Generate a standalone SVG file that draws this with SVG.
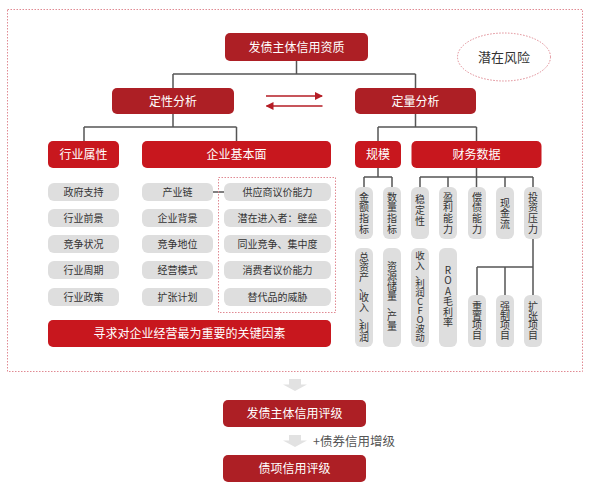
<svg xmlns="http://www.w3.org/2000/svg" width="589" height="490" viewBox="0 0 589 490">
<style>
text{font-family:"Noto Sans CJK SC","Noto Sans",sans-serif;}
.dk{fill:#ad1f25;}
.br{fill:#c8171e;}
.gp{fill:#dedede;}
.wt{fill:#ffffff;font-size:12px;text-anchor:middle;}
.gt{fill:#333333;font-size:10px;text-anchor:middle;}
.vt{fill:#333333;font-size:10px;text-anchor:middle;}
.ln{fill:none;stroke:#555555;stroke-width:1.5;}
.dot{fill:none;stroke:#e08a93;stroke-width:1;stroke-dasharray:1.5 1.5;}
.arw{fill:none;stroke:#b51d25;stroke-width:1.3;}
.ga{fill:#e2e2e2;}
</style>
<defs>
<marker id="ah" markerWidth="8" markerHeight="8" refX="7" refY="4" orient="auto" markerUnits="userSpaceOnUse">
<path d="M0,0 L8,4 L0,8 Z" fill="#b51d25"/>
</marker>
</defs>
<rect x="7.5" y="9.5" width="575" height="362" class="dot"/>
<g id="risk">
<ellipse cx="504" cy="57" rx="46.5" ry="24" class="dot"/>
<text x="504" y="62" style="font-size:13px;fill:#333;text-anchor:middle">潜在风险</text>
</g>
<g id="connectors">
<path class="ln" d="M296.5,61V74M173,74H415.5M173,74V88M415.5,74V88"/>
<path class="ln" d="M173,114V127M84,127H236.5M84,127V141M236.5,127V141"/>
<path class="ln" d="M415.5,114V127M378,127H476.5M378,127V141M476.5,127V141"/>
<path class="ln" d="M378,168V177M364,177H392M364,177V187M392,177V187"/>
<path class="ln" d="M476.5,168V177M420,177H533M420,177V187M448,177V187M476.5,177V187M505,177V187M533,177V187"/>
<path class="ln" d="M533,239V267M477,267H533M477,267V295M505,267V295M533,267V295"/>
<path class="ln" d="M213,192H224"/>
<line class="arw" x1="266" y1="96" x2="322" y2="96" marker-end="url(#ah)"/>
<line class="arw" x1="322.5" y1="106" x2="266.5" y2="106" marker-end="url(#ah)"/>
<path class="ga" d="M289,379H301V384.5H307L295,391L283,384.5H289Z"/>
<path class="ga" d="M289,435H301V440.5H307L295,447L283,440.5H289Z"/>
<text x="313" y="446" style="font-size:12.5px;fill:#555">+债券信用增级</text>
</g>
<g id="top"><rect x="225" y="33" width="143" height="28" rx="5" class="dk"/><text x="296.5" y="51.5" class="wt">发债主体信用资质</text></g>
<g id="dingxing"><rect x="112" y="88" width="122" height="26" rx="5" class="dk"/><text x="173" y="105.5" class="wt">定性分析</text></g>
<g id="dingliang"><rect x="355" y="88" width="121" height="26" rx="5" class="dk"/><text x="415.5" y="105.5" class="wt">定量分析</text></g>
<g id="hangye"><rect x="48" y="141" width="71" height="27" rx="5" class="br"/><text x="83.5" y="158.5" class="wt">行业属性</text></g>
<g id="qiye"><rect x="142" y="141" width="189" height="27" rx="5" class="br"/><text x="236.5" y="158.5" class="wt">企业基本面</text></g>
<g id="guimo"><rect x="355" y="141" width="46" height="27" rx="5" class="br"/><text x="378" y="158.5" class="wt">规模</text></g>
<g id="caiwu"><rect x="411.5" y="141" width="130" height="27" rx="5" class="br"/><text x="476.5" y="158.5" class="wt">财务数据</text></g>
<g id="col1">
<rect x="48" y="183" width="71" height="18" rx="6" class="gp"/><text x="83.5" y="195.5" class="gt">政府支持</text>
<rect x="48" y="209" width="71" height="18" rx="6" class="gp"/><text x="83.5" y="221.5" class="gt">行业前景</text>
<rect x="48" y="235" width="71" height="18" rx="6" class="gp"/><text x="83.5" y="247.5" class="gt">竞争状况</text>
<rect x="48" y="261" width="71" height="18" rx="6" class="gp"/><text x="83.5" y="273.5" class="gt">行业周期</text>
<rect x="48" y="288" width="71" height="18" rx="6" class="gp"/><text x="83.5" y="300.5" class="gt">行业政策</text>
</g>
<g id="col2">
<rect x="142" y="183" width="71" height="18" rx="6" class="gp"/><text x="177.5" y="195.5" class="gt">产业链</text>
<rect x="142" y="209" width="71" height="18" rx="6" class="gp"/><text x="177.5" y="221.5" class="gt">企业背景</text>
<rect x="142" y="235" width="71" height="18" rx="6" class="gp"/><text x="177.5" y="247.5" class="gt">竞争地位</text>
<rect x="142" y="261" width="71" height="18" rx="6" class="gp"/><text x="177.5" y="273.5" class="gt">经营模式</text>
<rect x="142" y="288" width="71" height="18" rx="6" class="gp"/><text x="177.5" y="300.5" class="gt">扩张计划</text>
</g>
<g id="col3">
<rect x="218.5" y="177.5" width="117" height="135" class="dot"/>
<rect x="224" y="183" width="107" height="18" rx="6" class="gp"/><text x="277.5" y="195.5" class="gt">供应商议价能力</text>
<rect x="224" y="209" width="107" height="18" rx="6" class="gp"/><text x="277.5" y="221.5" class="gt">潜在进入者：壁垒</text>
<rect x="224" y="235" width="107" height="18" rx="6" class="gp"/><text x="277.5" y="247.5" class="gt">同业竞争、集中度</text>
<rect x="224" y="261" width="107" height="18" rx="6" class="gp"/><text x="277.5" y="273.5" class="gt">消费者议价能力</text>
<rect x="224" y="288" width="107" height="18" rx="6" class="gp"/><text x="277.5" y="300.5" class="gt">替代品的威胁</text>
</g>
<g id="key"><rect x="48" y="320" width="283" height="27" rx="5" class="br"/><text x="189.5" y="338" class="wt">寻求对企业经营最为重要的关键因素</text></g>
<g id="v1"><rect x="355" y="187" width="18" height="52" rx="6" class="gp"/>
<text class="vt"><tspan x="364" y="200.6">金</tspan><tspan x="364" y="211.3">额</tspan><tspan x="364" y="222">指</tspan><tspan x="364" y="232.7">标</tspan></text></g>
<g id="v2"><rect x="383" y="187" width="18" height="52" rx="6" class="gp"/>
<text class="vt"><tspan x="392" y="200.6">数</tspan><tspan x="392" y="211.3">量</tspan><tspan x="392" y="222">指</tspan><tspan x="392" y="232.7">标</tspan></text></g>
<g id="v3"><rect x="411" y="187" width="18" height="52" rx="6" class="gp"/>
<text class="vt"><tspan x="420" y="203.1">稳</tspan><tspan x="420" y="214.1">定</tspan><tspan x="420" y="225.1">性</tspan></text></g>
<g id="v4"><rect x="439" y="187" width="18" height="52" rx="6" class="gp"/>
<text class="vt"><tspan x="448" y="200.6">盈</tspan><tspan x="448" y="211.3">利</tspan><tspan x="448" y="222">能</tspan><tspan x="448" y="232.7">力</tspan></text></g>
<g id="v5"><rect x="468" y="187" width="18" height="52" rx="6" class="gp"/>
<text class="vt"><tspan x="477" y="200.6">偿</tspan><tspan x="477" y="211.3">债</tspan><tspan x="477" y="222">能</tspan><tspan x="477" y="232.7">力</tspan></text></g>
<g id="v6"><rect x="496" y="187" width="18" height="52" rx="6" class="gp"/>
<text class="vt"><tspan x="505" y="206.6">现</tspan><tspan x="505" y="217.1">金</tspan><tspan x="505" y="227.6">流</tspan></text></g>
<g id="v7"><rect x="524" y="187" width="18" height="52" rx="6" class="gp"/>
<text class="vt"><tspan x="533" y="200.6">投</tspan><tspan x="533" y="211.3">资</tspan><tspan x="533" y="222">压</tspan><tspan x="533" y="232.7">力</tspan></text></g>
<g id="w1"><rect x="355" y="248" width="18" height="99" rx="6" class="gp"/>
<text class="vt"><tspan x="364" y="260.6">总</tspan><tspan x="364" y="270.7">资</tspan><tspan x="364" y="280.8">产</tspan><tspan x="364" y="290.9">、</tspan><tspan x="364" y="301">收</tspan><tspan x="364" y="311.1">入</tspan><tspan x="364" y="321.2">、</tspan><tspan x="364" y="331.3">利</tspan><tspan x="364" y="341.4">润</tspan></text></g>
<g id="w2"><rect x="383" y="248" width="18" height="99" rx="6" class="gp"/>
<text class="vt"><tspan x="392" y="270.3">资</tspan><tspan x="392" y="280.3">源</tspan><tspan x="392" y="290.3">储</tspan><tspan x="392" y="300.3">量</tspan><tspan x="392" y="310.3">、</tspan><tspan x="392" y="320.3">产</tspan><tspan x="392" y="330.3">量</tspan></text></g>
<g id="w3"><rect x="411" y="248" width="18" height="99" rx="6" class="gp"/>
<text class="vt" style="font-size:9.5px"><tspan x="420" y="259.4">收</tspan><tspan x="420" y="268.5">入</tspan><tspan x="420" y="277.6">、</tspan><tspan x="420" y="286.7">利</tspan><tspan x="420" y="295.8">润</tspan><tspan x="420" y="304.9">C</tspan><tspan x="420" y="314">F</tspan><tspan x="420" y="323.1">O</tspan><tspan x="420" y="332.2">波</tspan><tspan x="420" y="341.3">动</tspan></text></g>
<g id="w4"><rect x="439" y="248" width="18" height="99" rx="6" class="gp"/>
<text class="vt"><tspan x="448" y="273.6">R</tspan><tspan x="448" y="284.1">O</tspan><tspan x="448" y="294.6">A</tspan><tspan x="448" y="305.1">毛</tspan><tspan x="448" y="315.6">利</tspan><tspan x="448" y="326.1">率</tspan></text></g>
<g id="x1"><rect x="468" y="295" width="18" height="52" rx="6" class="gp"/>
<text class="vt"><tspan x="477" y="310.3">重</tspan><tspan x="477" y="319.7">置</tspan><tspan x="477" y="329.1">项</tspan><tspan x="477" y="338.5">目</tspan></text></g>
<g id="x2"><rect x="496" y="295" width="18" height="52" rx="6" class="gp"/>
<text class="vt"><tspan x="505" y="310.3">强</tspan><tspan x="505" y="319.7">制</tspan><tspan x="505" y="329.1">项</tspan><tspan x="505" y="338.5">目</tspan></text></g>
<g id="x3"><rect x="524" y="295" width="18" height="52" rx="6" class="gp"/>
<text class="vt"><tspan x="533" y="310.3">扩</tspan><tspan x="533" y="319.7">张</tspan><tspan x="533" y="329.1">项</tspan><tspan x="533" y="338.5">目</tspan></text></g>
<g id="rating1"><rect x="223" y="400" width="143" height="27" rx="5" class="dk"/><text x="294.5" y="418" class="wt">发债主体信用评级</text></g>
<g id="rating2"><rect x="223" y="455" width="143" height="27" rx="5" class="dk"/><text x="294.5" y="473" class="wt">债项信用评级</text></g>
</svg>
